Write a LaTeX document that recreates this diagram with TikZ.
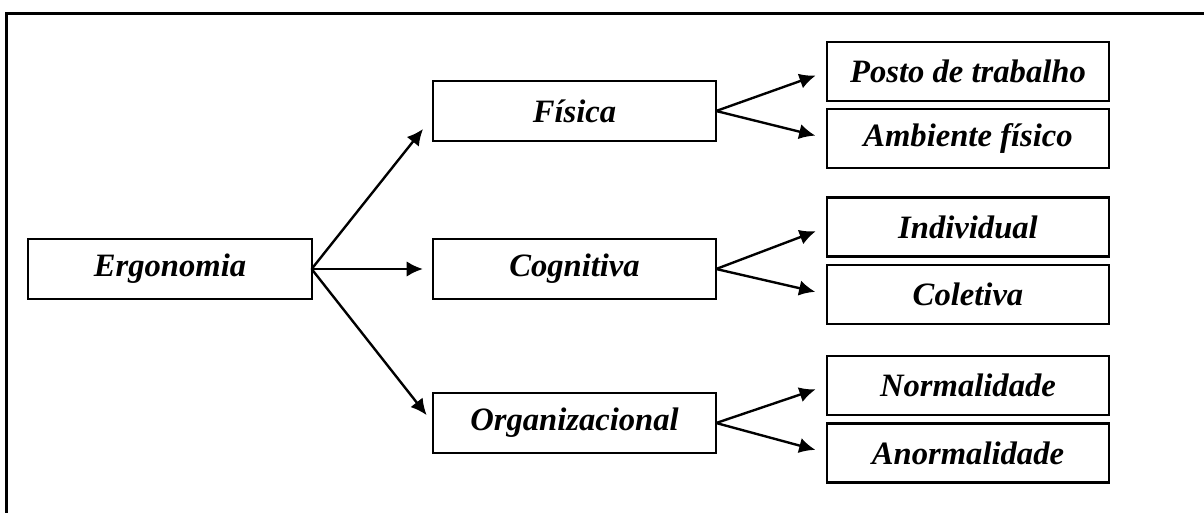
\documentclass[tikz,border=0pt]{standalone}
\usepackage{fontspec}
\setmainfont{Liberation Serif}
\usetikzlibrary{arrows.meta}
\begin{document}
\begin{tikzpicture}[x=0.025cm,y=-0.025cm,
  box/.style={draw, line width=1.6pt, minimum width=7.08cm, minimum height=1.5cm, inner sep=0pt, outer sep=0pt,
    font=\fontsize{23.2}{27}\selectfont\bfseries\itshape},
  sbox/.style={box, minimum width=7.05cm, minimum height=1.48cm},
  arr/.style={line width=1.7pt, -{Latex[length=11.5pt,width=11pt]}},
  sarr/.style={arr, shorten >=12*0.025cm}]
\useasboundingbox (0,0) rectangle (1204,513);
\coordinate (fl) at (6.5,513);
\coordinate (fc) at (6.5,13.5);
\coordinate (fr) at (1204,13.5);
\draw[line width=1.5pt] (fl) -- (fc) -- (fr);
\node[box] (erg) at (170,269) {Ergonomia};
\node[box] (fis) at (574.5,111) {Física};
\node[box] (cog) at (574.5,269) {Cognitiva};
\node[box] (org) at (574.5,423) {Organizacional};
\node[sbox] (posto) at (968,71.5) {Posto de trabalho};
\node[sbox] (amb) at (968,138.5) {Ambiente físico};
\node[sbox] (ind) at (968,227) {Individual};
\node[sbox] (col) at (968,294.5) {Coletiva};
\node[sbox] (nor) at (968,385.5) {Normalidade};
\node[sbox] (anor) at (968,453) {Anormalidade};
\coordinate (fistip) at (423,129);
\draw[arr] (erg.east) -- (fistip);
\draw[arr, shorten >=10*0.025cm] (erg.east) -- (cog.west);
\draw[arr, shorten >=10*0.025cm] (erg.east) -- (org.west);
\draw[sarr] (fis.east) -- (posto.west);
\draw[sarr] (fis.east) -- (amb.west);
\draw[sarr] (cog.east) -- (ind.west);
\draw[sarr] (cog.east) -- (col.west);
\draw[sarr] (org.east) -- (nor.west);
\draw[sarr] (org.east) -- (anor.west);
\end{tikzpicture}
\end{document}
